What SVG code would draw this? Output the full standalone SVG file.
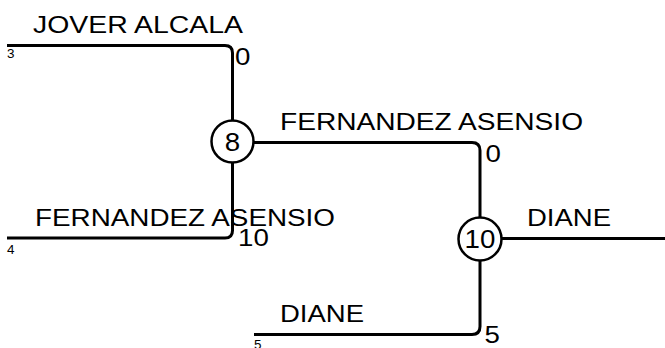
<svg xmlns="http://www.w3.org/2000/svg" width="665" height="348" viewBox="0 0 665 348">
<style>
.ln{fill:none;stroke:#000;stroke-width:3}
.nd{fill:#fff;stroke:#000;stroke-width:2.5}
.t{font-family:"Liberation Sans",Arial,sans-serif;font-size:24.5px;fill:#000}
.s{font-family:"Liberation Sans",Arial,sans-serif;font-size:12px;fill:#000}
.c{font-family:"Liberation Sans",Arial,sans-serif;font-size:25px;fill:#000;text-anchor:middle}
</style>
<rect width="665" height="348" fill="#fff"/>
<g id="connectors">
<path class="ln" d="M7,45.5 H225 Q232.5,45.5 232.5,53 V120.5"/>
<path class="ln" d="M7,238 H225 Q232.5,238 232.5,230.5 V162.5"/>
<path class="ln" d="M253.5,142.5 H472 Q480,142.5 480,150.5 V217.5"/>
<path class="ln" d="M254,334.5 H472 Q480,334.5 480,326.5 V260.5"/>
<path class="ln" d="M501.5,238.5 H665"/>
</g>
<g id="labels">
<text class="t" x="33" y="33" textLength="210" lengthAdjust="spacingAndGlyphs">JOVER ALCALA</text>
<text class="s" x="7" y="58" textLength="7.5" lengthAdjust="spacingAndGlyphs">3</text>
<text class="t" x="235" y="65" textLength="15.4" lengthAdjust="spacingAndGlyphs">0</text>
<text class="t" x="280" y="129.5" textLength="303" lengthAdjust="spacingAndGlyphs">FERNANDEZ ASENSIO</text>
<text class="t" x="485.5" y="162" textLength="15.4" lengthAdjust="spacingAndGlyphs">0</text>
<text class="t" x="35" y="226" textLength="300" lengthAdjust="spacingAndGlyphs">FERNANDEZ ASENSIO</text>
<text class="s" x="7" y="254" textLength="7.5" lengthAdjust="spacingAndGlyphs">4</text>
<text class="t" x="238" y="245.5" textLength="30.8" lengthAdjust="spacingAndGlyphs">10</text>
<text class="t" x="527" y="226" textLength="84" lengthAdjust="spacingAndGlyphs">DIANE</text>
<text class="t" x="280" y="322" textLength="84" lengthAdjust="spacingAndGlyphs">DIANE</text>
<text class="s" x="254" y="349" textLength="7.5" lengthAdjust="spacingAndGlyphs">5</text>
<text class="t" x="484.5" y="343" textLength="15.4" lengthAdjust="spacingAndGlyphs">5</text>
</g>
<g id="node-8">
<circle class="nd" cx="232.5" cy="141.5" r="21"/>
<text class="c" x="232.5" y="150.5" textLength="15.4" lengthAdjust="spacingAndGlyphs">8</text>
</g>
<g id="node-10">
<circle class="nd" cx="480" cy="239" r="21.5"/>
<text class="c" x="480" y="248" textLength="30.8" lengthAdjust="spacingAndGlyphs">10</text>
</g>
</svg>
